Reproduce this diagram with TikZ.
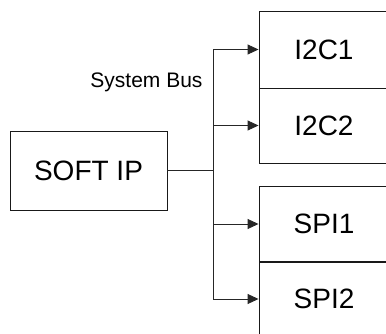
\documentclass[tikz,border=0pt]{standalone}
\usepackage{fontspec}
\setmainfont{Liberation Sans}
\usetikzlibrary{calc,arrows.meta}

\begin{document}
\begin{tikzpicture}[x=1pt,y=-1pt,>={Triangle[length=11pt,width=10pt]},
  blk/.style={draw=black!90,line width=0.9pt,inner sep=0pt,
    font=\fontsize{28}{34}\selectfont},
  unit/.style={blk,minimum width=130,anchor=center},
  link/.style={draw=black!85,line width=0.9pt}]

% ----- page frame (reference crops the right boxes) -----
\clip (0,0) rectangle (386,334);

% ----- master -----
\node[blk,minimum width=157,minimum height=79] (soft) at (88.5,170.5) {SOFT IP};

% ----- peripherals -----
\node[unit,minimum height=77] (i2c1) at (324,49.5) {I2C1};
\node[unit,minimum height=75] (i2c2) at (324,125.5) {I2C2};
\node[unit,minimum height=76] (spi1) at (324,224) {SPI1};
\node[unit,minimum height=76] (spi2) at (324,299) {SPI2};

% ----- system bus -----
\coordinate (bj) at (213,170.5);
\draw[link] (soft.east) -- (bj);
\draw[link] (bj |- i2c1.west) -- (bj |- spi2.west);
\node[anchor=east,font=\fontsize{21}{25}\selectfont] (sbus) at (206,82) {System Bus};

\foreach \u in {i2c1,i2c2,spi1,spi2}
  \draw[link,->] (bj |- \u.west) -- (\u.west);

\end{tikzpicture}
\end{document}
